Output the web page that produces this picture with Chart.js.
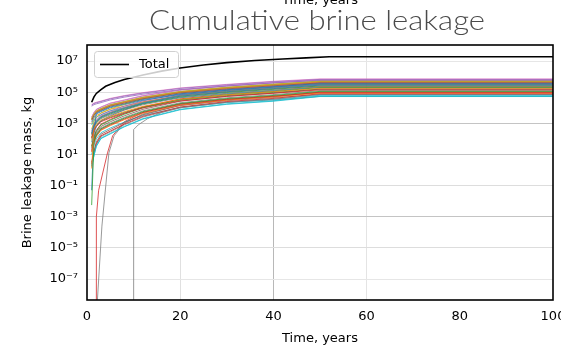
<!DOCTYPE html>
<html>
<head>
<meta charset="utf-8">
<script src="https://cdn.jsdelivr.net/npm/chart.js@4.4.1/dist/chart.umd.min.js"></script>
<style>
  html, body { margin: 0; padding: 0; background: #fff; overflow: hidden; }
  canvas { display: block; }
</style>
</head>
<body>
<canvas id="chart" width="561" height="350"></canvas>
<script>
// sample times shared by most leak curves (years)
const years = [1, 1.5, 2, 3, 5, 8, 12, 20, 30, 40, 50, 100];

// log10 of leaked mass (kg), one row per leak path
const leakExp = [
  [2.35, 2.85, 3.1, 3.4, 3.65, 3.95, 4.29, 4.74, 5.03, 5.23, 5.45, 5.45],
  [0.1, 2.65, 2.9, 3.2, 3.45, 3.75, 4.09, 4.54, 4.83, 5.03, 5.25, 5.25],
  [-2.25, 1.85, 2.25, 2.65, 2.95, 3.33, 3.75, 4.27, 4.59, 4.79, 5.05, 5.05],
  [2.05, 2.55, 2.8, 3.1, 3.35, 3.65, 3.99, 4.44, 4.73, 4.93, 5.15, 5.15],
  [4.17, 4.27, 4.32, 4.4, 4.57, 4.75, 4.94, 5.24, 5.47, 5.67, 5.82, 5.82],
  [3.2, 3.5, 3.7, 3.85, 4.1, 4.3, 4.58, 4.95, 5.21, 5.41, 5.6, 5.6],
  [4.2, 4.3, 4.35, 4.43, 4.6, 4.78, 4.97, 5.27, 5.5, 5.7, 5.85, 5.85],
  [2.25, 2.75, 3.0, 3.3, 3.55, 3.85, 4.19, 4.64, 4.93, 5.13, 5.35, 5.35],
  [3.3, 3.6, 3.8, 3.95, 4.2, 4.4, 4.68, 5.05, 5.31, 5.51, 5.7, 5.7],
  [0.25, 0.95, 1.55, 2.05, 2.35, 2.8, 3.3, 3.9, 4.25, 4.45, 4.75, 4.75],
  [-1.3, 2.4, 3.65, 3.8, 4.05, 4.25, 4.53, 4.9, 5.16, 5.36, 5.55, 5.55],
  [3.25, 3.55, 3.75, 3.9, 4.15, 4.35, 4.63, 5.0, 5.26, 5.46, 5.65, 5.65],
  [1.5, 2.1, 2.5, 2.9, 3.2, 3.58, 4.0, 4.52, 4.84, 5.04, 5.3, 5.3],
  [1.2, 1.8, 2.2, 2.6, 2.9, 3.28, 3.7, 4.22, 4.54, 4.74, 5.0, 5.0],
  [4.1, 4.2, 4.25, 4.33, 4.5, 4.68, 4.87, 5.17, 5.4, 5.6, 5.75, 5.75],
  [3.28, 3.58, 3.78, 3.93, 4.18, 4.38, 4.66, 5.03, 5.29, 5.49, 5.68, 5.68],
  [3.4, 3.7, 3.9, 4.05, 4.3, 4.5, 4.78, 5.15, 5.41, 5.61, 5.8, 5.8],
  [2.4, 2.9, 3.15, 3.45, 3.7, 4.0, 4.34, 4.79, 5.08, 5.28, 5.5, 5.5],
  [2.62, 3.12, 3.37, 3.67, 3.92, 4.22, 4.56, 5.01, 5.3, 5.5, 5.72, 5.72],
  [0.22, 0.92, 1.52, 2.02, 2.32, 2.77, 3.27, 3.87, 4.22, 4.42, 4.72, 4.72],
  [3.1, 3.4, 3.6, 3.75, 4.0, 4.2, 4.48, 4.85, 5.11, 5.31, 5.5, 5.5],
  [1.15, 1.75, 2.15, 2.55, 2.85, 3.23, 3.65, 4.17, 4.49, 4.69, 4.95, 4.95],
  [2.3, 2.8, 3.05, 3.35, 3.6, 3.9, 4.24, 4.69, 4.98, 5.18, 5.4, 5.4],
  [0.4, 1.1, 1.7, 2.2, 2.5, 2.95, 3.45, 4.05, 4.4, 4.6, 4.9, 4.9],
  [2.5, 3.0, 3.25, 3.55, 3.8, 4.1, 4.44, 4.89, 5.18, 5.38, 5.6, 5.6],
  [1.4, 2.0, 2.4, 2.8, 3.1, 3.48, 3.9, 4.42, 4.74, 4.94, 5.2, 5.2],
  [3.29, 3.59, 3.79, 3.94, 4.19, 4.39, 4.67, 5.04, 5.3, 5.5, 5.69, 5.69],
  [1.3, 1.9, 2.3, 2.7, 3.0, 3.38, 3.8, 4.32, 4.64, 4.84, 5.1, 5.1],
  [1.9, 2.7, 3.12, 3.42, 3.67, 3.97, 4.31, 4.76, 5.05, 5.25, 5.47, 5.47],
  [2.9, 3.2, 3.4, 3.55, 3.8, 4.0, 4.28, 4.65, 4.91, 5.11, 5.3, 5.3],
  [1.78, 2.38, 2.78, 3.18, 3.48, 3.86, 4.28, 4.8, 5.12, 5.32, 5.58, 5.58],
  [3.0, 3.3, 3.5, 3.65, 3.9, 4.1, 4.38, 4.75, 5.01, 5.21, 5.4, 5.4],
  [2.1, 2.6, 2.85, 3.15, 3.4, 3.7, 4.04, 4.49, 4.78, 4.98, 5.2, 5.2],
  [1.55, 2.15, 2.55, 2.95, 3.25, 3.63, 4.05, 4.57, 4.89, 5.09, 5.35, 5.35],
  [3.38, 3.68, 3.88, 4.03, 4.28, 4.48, 4.76, 5.13, 5.39, 5.59, 5.78, 5.78],
  [0.5, 1.2, 1.8, 2.3, 2.6, 3.05, 3.55, 4.15, 4.5, 4.7, 5.0, 5.0],
  [2.0, 2.92, 3.17, 3.47, 3.72, 4.02, 4.36, 4.81, 5.1, 5.3, 5.52, 5.52],
  [0.35, 1.05, 1.65, 2.15, 2.45, 2.9, 3.4, 4.0, 4.35, 4.55, 4.85, 4.85],
  [3.22, 3.52, 3.72, 3.87, 4.12, 4.32, 4.6, 4.97, 5.23, 5.43, 5.62, 5.62],
  [1.0, 1.6, 2.0, 2.4, 2.7, 3.08, 3.5, 4.02, 4.34, 4.54, 4.8, 4.8]
];

// paths that start leaking later
const redYears = [2, 2.01, 2.5, 4.4, 5.5, 8, 12, 20, 30, 40, 50, 100];
const redExp   = [-12, -3.0, -1.3, 1.1, 2.2, 3.1, 3.7, 4.25, 4.55, 4.75, 4.95, 4.95];
const grayAYears = [2.1, 3.2, 4.7, 5.8, 8, 12, 20, 30, 40, 50, 100];
const grayAExp   = [-9, -3.6, 1.1, 2.2, 3.0, 3.6, 4.15, 4.45, 4.65, 4.85, 4.85];
const grayBYears = [10, 10.01, 11, 13, 16, 20, 30, 40, 50, 100];
const grayBExp   = [-12, 2.6, 2.9, 3.3, 3.7, 4.0, 4.35, 4.5, 4.73, 4.73];

// total of all paths
const totalYears = [1, 1.5, 2, 3, 4, 6, 8, 12, 16, 20, 25, 30, 36, 42, 47, 52, 100];
const totalExp   = [4.35, 4.7, 4.92, 5.17, 5.38, 5.62, 5.82, 6.1, 6.35, 6.55, 6.75, 6.9, 7.03, 7.13, 7.2, 7.27, 7.27];

const xTicks = [0, 20, 40, 60, 80, 100];
const yTickExp = [-7, -5, -3, -1, 1, 3, 5, 7];
const yTickLabels = ["10⁻⁷", "10⁻⁵", "10⁻³", "10⁻¹", "10¹", "10³", "10⁵", "10⁷"];

const tab10 = ["#1f77b4", "#ff7f0e", "#2ca02c", "#d62728", "#9467bd",
               "#8c564b", "#e377c2", "#7f7f7f", "#bcbd22", "#17becf"];

const pts = (xs, es) => xs.map((x, i) => ({ x: x, y: Math.pow(10, es[i]) }));

const datasets = [{
  label: "Total", data: pts(totalYears, totalExp),
  borderColor: "#000", borderWidth: 1.6, pointRadius: 0
}];
leakExp.forEach((row, i) => {
  datasets.push({ label: "p" + i, data: pts(years, row),
    borderColor: tab10[i % 10], borderWidth: 0.8, pointRadius: 0 });
});
datasets.push({ label: "r", data: pts(redYears, redExp), borderColor: "#d62728", borderWidth: 0.8, pointRadius: 0 });
datasets.push({ label: "ga", data: pts(grayAYears, grayAExp), borderColor: "#7f7f7f", borderWidth: 0.8, pointRadius: 0 });
datasets.push({ label: "gb", data: pts(grayBYears, grayBExp), borderColor: "#7f7f7f", borderWidth: 0.8, pointRadius: 0 });

const decor = {
  id: "decor",
  afterDraw(chart) {
    const { ctx, chartArea: a } = chart;
    ctx.save();
    // frame
    ctx.strokeStyle = "#000";
    ctx.lineWidth = 1.6;
    ctx.strokeRect(a.left, a.top, a.right - a.left, a.bottom - a.top);
    // legend
    ctx.beginPath();
    ctx.roundRect(94.5, 51.5, 84, 26, 3);
    ctx.fillStyle = "rgba(255,255,255,0.8)";
    ctx.fill();
    ctx.strokeStyle = "#d0d0d0";
    ctx.lineWidth = 1;
    ctx.stroke();
    ctx.beginPath();
    ctx.moveTo(100, 64.5);
    ctx.lineTo(129, 64.5);
    ctx.strokeStyle = "#000";
    ctx.lineWidth = 1.6;
    ctx.stroke();
    ctx.fillStyle = "#000";
    ctx.font = "13px 'DejaVu Sans'";
    ctx.textBaseline = "middle";
    ctx.fillText("Total", 139, 65);
    // cut-off label from the panel above
    ctx.textAlign = "center";
    ctx.textBaseline = "alphabetic";
    ctx.fillText("Time, years", 320, 4);
    // title
    ctx.font = "300 27px Lato";
    ctx.fillStyle = "#4a4a4a";
    const w = ctx.measureText("Cumulative brine leakage").width;
    ctx.translate(317, 30);
    ctx.scale(336 / w, 1);
    ctx.fillText("Cumulative brine leakage", 0, 0);
    ctx.restore();
  }
};

const xGrid = { 20: "#e0e0e0", 40: "#b8b8b8", 60: "#e4e4e4" };
const yGrid = ["#e6e6e6", "#dddddd", "#c4c4c4", "#dddddd", "#c4c4c4", "#c4c4c4", "#dddddd", "#e6e6e6"];

new Chart(document.getElementById("chart"), {
  type: "line",
  data: { datasets },
  plugins: [decor],
  options: {
    responsive: false,
    animation: false,
    events: [],
    layout: { padding: { top: 45, right: 8, left: 0, bottom: 0 } },
    plugins: { legend: { display: false }, tooltip: { enabled: false } },
    elements: { line: { tension: 0, fill: false } },
    scales: {
      x: {
        type: "linear", min: 0, max: 100,
        afterBuildTicks: s => { s.ticks = xTicks.map(v => ({ value: v })); },
        afterFit: s => { s.height = 50; s.paddingLeft = 0; s.paddingRight = 0; },
        ticks: { color: "#000", font: { family: "DejaVu Sans", size: 13 }, padding: 9, maxRotation: 0 },
        grid: { drawTicks: false, color: c => xGrid[c.tick && c.tick.value] || "rgba(0,0,0,0)" },
        border: { display: false },
        title: { display: true, text: "Time, years", color: "#000",
                 font: { family: "DejaVu Sans", size: 13 }, padding: { top: 0, bottom: 4 } }
      },
      y: {
        type: "logarithmic", min: 4.5e-9, max: 1.07e8,
        afterBuildTicks: s => { s.ticks = yTickExp.map(e => ({ value: Math.pow(10, e) })); },
        afterFit: s => { s.width = 87; s.paddingTop = 0; s.paddingBottom = 0; },
        ticks: { color: "#000", font: { family: "DejaVu Sans", size: 13 }, padding: 9, autoSkip: false,
                 callback: (v, i) => yTickLabels[i] },
        grid: { drawTicks: false, color: c => yGrid[c.index] || "#dddddd" },
        border: { display: false },
        title: { display: true, text: "Brine leakage mass, kg", color: "#000",
                 font: { family: "DejaVu Sans", size: 13 }, padding: { top: 20, bottom: 0 } }
      }
    }
  }
});
</script>
</body>
</html>
